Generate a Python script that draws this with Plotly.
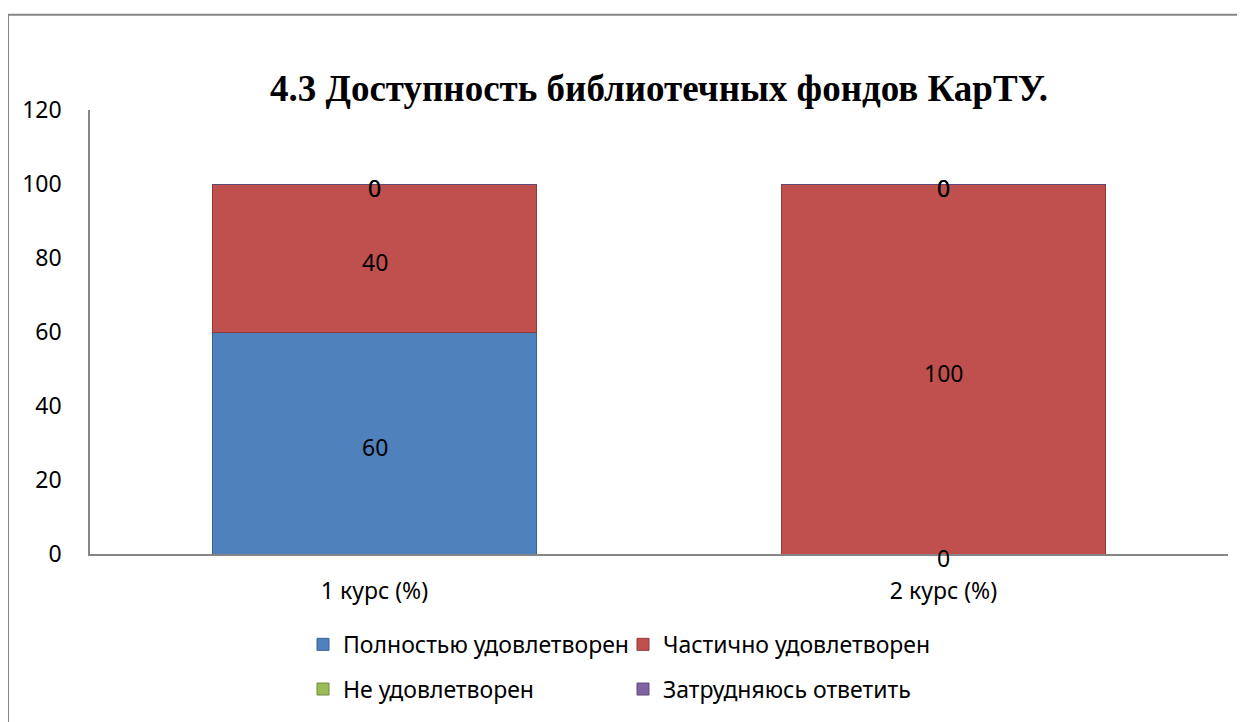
import plotly.graph_objects as go

categories = ["1 курс (%)", "2 курс (%)"]
series_names = ["Полностью удовлетворен", "Частично удовлетворен", "Не удовлетворен", "Затрудняюсь ответить"]
full = [60, 0]
partial = [40, 100]
not_sat = [0, 0]
hard = [0, 0]
y_ticks = [0, 20, 40, 60, 80, 100, 120]

values = [full, partial, not_sat, hard]
colors = ["#4F81BD", "#C0504D", "#9BBB59", "#8064A2"]
edges = ["#3A6090", "#8E3A38", "#73893F", "#5E4A7A"]

OFF = 8  # page body margin
W, H = 1245 - OFF, 722 - OFF
# target pixel positions in the 1245x722 window
PL, PR, PT, PB = 90, 1228, 110, 557
L, R, T = PL - OFF, W - (PR - OFF), PT - OFF
B = H - (PB - OFF)
pw, ph = W - L - R, H - T - B

def px_x(p):
    return (p - OFF - L) / pw

def px_y(p):
    return (H - B - (p - OFF)) / ph

FONT = "Noto Sans"
fig = go.Figure()
legend_pos = [(303, 648), (623, 648), (303, 693), (623, 693)]
legend_names = ["legend", "legend2", "legend3", "legend4"]
for i, (name, vals) in enumerate(zip(series_names, values)):
    fig.add_trace(go.Bar(
        x=categories, y=vals, name=name,
        marker=dict(color=colors[i], line=dict(color=edges[i], width=1)),
        legend=legend_names[i],
    ))

# data labels (centred on each stacked segment)
annotations = []
base = [0, 0]
for vals in values:
    for cat, b, v in zip(categories, base, vals):
        annotations.append(dict(
            x=cat, y=b + v / 2, xref="x", yref="y", text=str(v), showarrow=False,
            yshift=-4, font=dict(family=FONT, size=23, color="black"),
        ))
    base = [b + v for b, v in zip(base, vals)]

layout_legends = {}
for ln, (lx, ly) in zip(legend_names, legend_pos):
    layout_legends[ln] = dict(
        x=px_x(lx), y=px_y(ly), xanchor="left", yanchor="middle",
        orientation="h", bgcolor="rgba(0,0,0,0)",
        font=dict(family=FONT, size=23, color="black"),
        itemclick=False, itemdoubleclick=False,
    )

fig.update_layout(
    width=W, height=H,
    margin=dict(l=L, r=R, t=T, b=B),
    barmode="stack", bargap=0.43,
    plot_bgcolor="white", paper_bgcolor="white",
    title=dict(text="<b>4.3 Доступность библиотечных фондов КарТУ.</b>",
               font=dict(family="Liberation Serif", size=37, color="black"),
               x=0.5, xref="paper", xanchor="center",
               y=1 - (88 - OFF) / H, yref="container", yanchor="middle"),
    showlegend=True,
    **layout_legends,
    annotations=annotations,
    xaxis=dict(showline=True, linecolor="#868686", linewidth=1.5, showgrid=False,
               ticks="", tickfont=dict(family=FONT, size=23, color="black"),
               ticklabelstandoff=16, fixedrange=True),
    yaxis=dict(range=[0, 120], tickvals=y_ticks, showline=True, linecolor="#868686",
               linewidth=1.5, showgrid=False, zeroline=False, ticks="",
               tickfont=dict(family=FONT, size=23, color="black"),
               ticklabelstandoff=22, fixedrange=True),
    shapes=[dict(type="rect", xref="paper", yref="paper",
                 x0=px_x(8), y0=px_y(760), x1=px_x(1300), y1=px_y(14),
                 line=dict(color="#878787", width=2), fillcolor="rgba(0,0,0,0)")],
)

fig.write_html("out.html")
